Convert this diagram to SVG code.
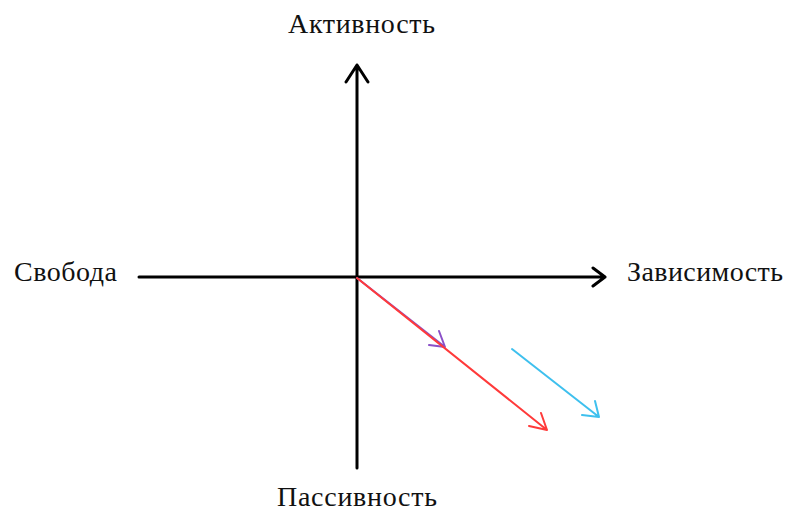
<svg xmlns="http://www.w3.org/2000/svg" width="790" height="514" viewBox="0 0 790 514">
<style>
.lbl{font-family:"Liberation Serif","Times New Roman",serif;font-size:28px;fill:#111}
.axis{stroke:#000;stroke-width:3;fill:none;stroke-linecap:round;stroke-linejoin:round}
.red{stroke:#FF3A3A;stroke-width:2;fill:none;stroke-linecap:round;stroke-linejoin:round}
.blue{stroke:#3EC0EE;stroke-width:2;fill:none;stroke-linecap:round;stroke-linejoin:round}
.purple{stroke:#8A50C8;stroke-width:2;fill:none;stroke-linecap:round;stroke-linejoin:round}
</style>
<rect width="790" height="514" fill="#fff"/>
<g id="labels">
<text class="lbl" x="288" y="33" textLength="147">Активность</text>
<text class="lbl" x="14" y="281" textLength="103">Свобода</text>
<text class="lbl" x="627" y="281" textLength="156">Зависимость</text>
<text class="lbl" x="277" y="506" textLength="160">Пассивность</text>
</g>
<g id="connectors">
<path class="axis" d="M357,468 V65 M346,82 L357,65 L368,82"/>
<path class="axis" d="M139,277 H605 M593,268 L605,277 L593,286"/>
<path class="purple" d="M357,278 L445,347 M429,345 L445,347 L439,331"/>
<path class="red" d="M357,278 L547,430 M529,426 L547,430 L541,413"/>
<path class="blue" d="M512,349 L599,417 M582,415 L599,417 L595,401"/>
</g>
</svg>
